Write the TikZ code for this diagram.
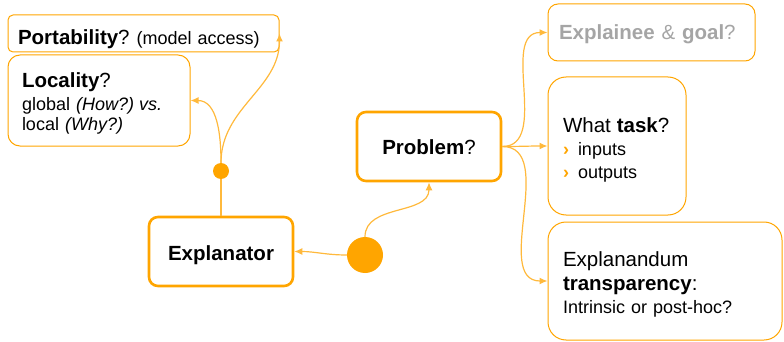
\documentclass[tikz,border=0pt]{standalone}
\usepackage{fontspec}
\setmainfont{Liberation Sans}
\usetikzlibrary{arrows.meta}
\definecolor{orng}{RGB}{255,165,0}
\definecolor{lorng}{RGB}{255,185,60}
\definecolor{gry}{RGB}{165,165,165}
\newcommand{\ttl}{\fontsize{20.5}{23}\selectfont}
\newcommand{\bdy}{\fontsize{18}{23}\selectfont}

\begin{document}
\begin{tikzpicture}[x=1pt,y=-1pt,
  thinbox/.style={draw=orng, line width=1pt, align=left, inner ysep=0pt, font=\bdy},
  thickbox/.style={draw=orng, line width=2.6pt, rounded corners=9pt, minimum width=144pt, minimum height=69pt, font=\ttl, text depth=0pt},
  link/.style={draw=lorng, line width=1.2pt, -{Latex[length=8pt,width=7pt]}},
  dot/.style={circle, fill=orng, inner sep=0pt}]
\useasboundingbox (0,0) rectangle (784,342);
\node [thinbox, rounded corners=5pt, inner xsep=10pt, text width=251pt, minimum height=37pt, text height=21.6pt, text depth=0pt] (port) at (143.5,33.5) {{\ttl\textbf{Portability}?}\hspace{7pt}(model access)};
\node [thinbox, rounded corners=12pt, inner xsep=14pt, text width=154pt, minimum height=91pt] (loc) at (99,100.5) {\rule{0pt}{20pt}{\ttl\textbf{Locality}?}\\ global \textit{(How?)}\hspace{5pt}\textit{vs.}\\[-3pt] local \textit{(Why?)}};
\node [thickbox, text height=18.4pt] (expl) at (221,251.5) {\textbf{Explanator}};
\node [thickbox, text height=15pt] (prob) at (429,146.5) {\textbf{Problem}?};
\node [thinbox, rounded corners=10pt, inner xsep=11pt, text width=185pt, minimum height=57pt, text=gry, font=\ttl, text height=13.6pt, text depth=0pt] (goal) at (651.5,32.5) {\textbf{Explainee} \& \textbf{goal}?};
\node [thinbox, rounded corners=18pt, inner xsep=15pt, text width=108pt, minimum height=138pt] (task) at (617,146) {\rule{0pt}{23.7pt}{\ttl What \textbf{task}?}\\ {\color{orng}\textbf{›}}\enspace inputs\\ {\color{orng}\textbf{›}}\enspace outputs};
\node [thinbox, rounded corners=18pt, inner xsep=15pt, text width=204pt, minimum height=118pt] (transp) at (665,281) {\rule{0pt}{22.2pt}{\ttl Explanandum}\\[1pt] {\ttl\textbf{transparency}:}\\ Intrinsic or post-hoc?};
\node [dot, minimum size=16pt] (sdot) at (221,171) {};
\node [dot, minimum size=36pt] (bdot) at (365,255) {};
\draw [draw=lorng, line width=1.2pt] (expl.north) -- (sdot);
\draw [link] (sdot) to[out=90, in=0] (loc.east);
\draw [link] (sdot) to[out=90, in=-90] (port.east);
\draw [link] (bdot) to[out=180, in=0] (expl.east);
\draw [link] (bdot) to[out=90, in=-90] (prob.south);
\draw [link] (prob.east) to[out=0, in=180] (goal.west);
\draw [link] (prob.east) to[out=0, in=180] (task.west);
\draw [link] (prob.east) to[out=0, in=180] (transp.west);
\end{tikzpicture}
\end{document}
